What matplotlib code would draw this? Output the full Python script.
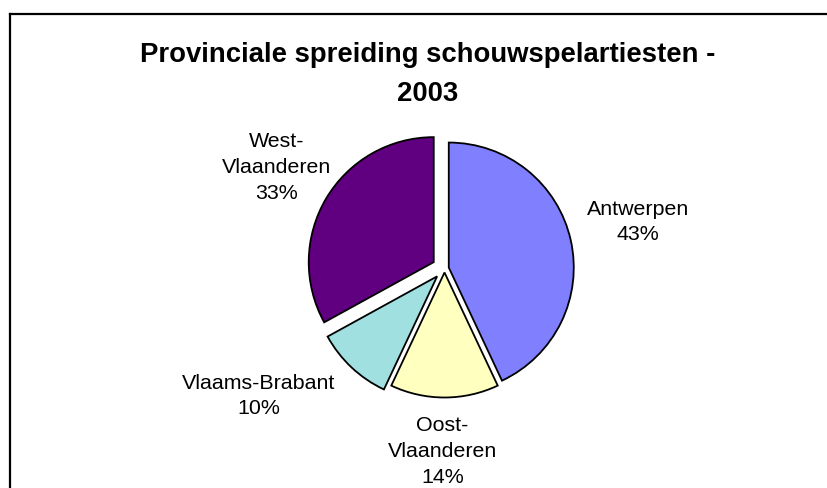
import matplotlib
matplotlib.use("Agg")
import matplotlib.pyplot as plt
from matplotlib.lines import Line2D

# ---- data ----
categories = ["Antwerpen", "Oost-\nVlaanderen", "Vlaams-Brabant", "West-\nVlaanderen"]
shares = [43, 14, 10, 33]
colors = ["#8080FF", "#FFFFC0", "#A0E0E0", "#600080"]
title = "Provinciale spreiding schouwspelartiesten -\n2003"

# ---- layout (pixel based) ----
W, H = 827, 489
R = 125.0                 # pie radius in px
cx, cy = 444.5, 269.5     # pie centre in image px (y down)
explode = [0.035, 0.032, 0.086, 0.10]
label_pos = [(1.548, 0.38), (-0.016, -1.456), (-1.488, -1.012), (-1.34, 0.816)]

plt.rcParams['font.family'] = ['Liberation Sans', 'DejaVu Sans']
fig = plt.figure(figsize=(W / 100, H / 100), dpi=100)
fig.patch.set_facecolor("white")
ax = fig.add_axes([0, 0, 1, 1])
ax.set_axis_off()

wedges, _ = ax.pie(shares, colors=colors, startangle=90, counterclock=False,
                   explode=explode, radius=1, center=(0, 0),
                   wedgeprops=dict(edgecolor="black", linewidth=1.3))
ax.set_aspect('auto')
ax.set_xlim(-cx / R, (W - cx) / R)
ax.set_ylim(-(H - cy) / R, cy / R)

for cat, val, (lx, ly) in zip(categories, shares, label_pos):
    ax.text(lx, ly, f"{cat}\n{val}%", ha="center", va="center",
            fontsize=15.4, linespacing=1.46, color="black")

fig.text(427.5 / W, 1 - 42 / H, title, ha="center", va="top",
         fontsize=19.8, fontweight="bold", linespacing=1.67)

# frame (top and left edges visible)
fig.add_artist(Line2D([10 / W, 10 / W], [0, 1 - 15 / H], color="black",
                      linewidth=1.6, transform=fig.transFigure))
fig.add_artist(Line2D([10 / W, 1], [1 - 15 / H, 1 - 15 / H], color="black",
                      linewidth=1.6, transform=fig.transFigure))

fig.savefig("out.png", dpi=100)
